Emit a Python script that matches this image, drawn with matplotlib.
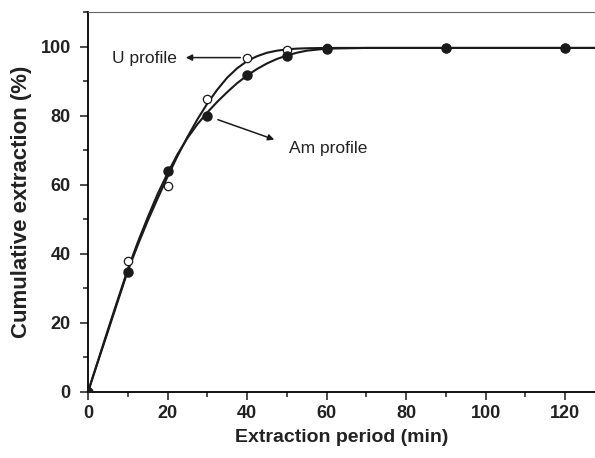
import matplotlib
matplotlib.use("Agg")
from matplotlib import pyplot as plt
from matplotlib.ticker import MultipleLocator

plt.rcParams["font.family"] = ["Liberation Sans", "DejaVu Sans"]

# measured points
t = [0, 10, 20, 30, 40, 50, 60, 90, 120]
u_data = [0, 37.9, 59.5, 84.7, 96.6, 99.0, 99.5, 99.5, 99.5]
am_data = [0, 34.8, 63.9, 79.9, 91.9, 97.3, 99.3, 99.5, 99.5]

# fitted curves
t_fit = [0, 2.5, 5, 7.5, 10, 12.5, 15, 17.5, 20, 22.5, 25, 27.5, 30, 32.5, 35,
         37.5, 40, 42.5, 45, 47.5, 50, 52.5, 55, 60, 70, 80, 100, 128]
u_fit = [0, 8.8, 17.5, 26.3, 35, 42.5, 49.5, 56, 62.3, 68.3, 73.8, 78.9, 83.5,
         87.5, 91, 93.7, 95.8, 97.2, 98.2, 98.8, 99.2, 99.4, 99.5, 99.6, 99.6, 99.6, 99.6, 99.6]
am_fit = [0, 9, 18, 26.8, 35.5, 43.3, 50.5, 57.3, 63.3, 68.8, 73.5, 77.5, 80.9,
          84, 86.8, 89.4, 91.6, 93.5, 95.1, 96.4, 97.4, 98.2, 98.8, 99.4, 99.6, 99.6, 99.6, 99.6]

fig = plt.figure(figsize=(5.95, 4.58), dpi=100)
ax = fig.add_axes([88 / 595, 66 / 458, 1 - 88 / 595, 380 / 458])

ax.plot(t_fit, u_fit, color="#1a1a1a", lw=1.5)
ax.plot(t_fit, am_fit, color="#1a1a1a", lw=1.5)
ax.plot(t, u_data, "o", mfc="white", mec="#1a1a1a", ms=6, mew=0.9, zorder=3)
ax.plot(t, am_data, "o", color="#1a1a1a", ms=6.5, zorder=3)

ax.annotate("", xy=(23.9, 96.8), xytext=(39, 96.8),
            arrowprops=dict(arrowstyle="-|>", color="#1a1a1a", lw=1.1, mutation_scale=9))
ax.text(14.3, 96.6, "U profile", ha="center", va="center", fontsize=12.5, color="#222222")
ax.annotate("", xy=(47.5, 72.8), xytext=(32, 79.1),
            arrowprops=dict(arrowstyle="-|>", color="#1a1a1a", lw=1.1, mutation_scale=9))
ax.text(50.5, 70.6, "Am profile", ha="left", va="center", fontsize=12.5, color="#222222")

ax.set_xlim(0, 127.5)
ax.set_ylim(0, 110)
ax.xaxis.set_major_locator(MultipleLocator(20))
ax.xaxis.set_minor_locator(MultipleLocator(10))
ax.yaxis.set_major_locator(MultipleLocator(20))
ax.yaxis.set_minor_locator(MultipleLocator(10))
ax.tick_params(which="both", direction="out", width=1.1, color="#1a1a1a")
ax.tick_params(which="major", length=6, labelsize=13)
ax.tick_params(axis="y", which="major", pad=6.5)
ax.tick_params(which="minor", length=3.5)
for lab in ax.get_xticklabels() + ax.get_yticklabels():
    lab.set_fontweight("bold")
    lab.set_color("#222222")

ax.spines["left"].set_linewidth(1.3)
ax.spines["bottom"].set_linewidth(1.3)
ax.spines["top"].set_linewidth(0.8)
ax.spines["top"].set_color("#666666")
ax.spines["right"].set_visible(False)

ax.set_xlabel("Extraction period (min)", fontsize=14, fontweight="bold", color="#222222", labelpad=5)
ax.set_ylabel("Cumulative extraction (%)", fontsize=16, fontweight="bold", color="#222222", labelpad=6)

fig.savefig("out.png", dpi=100)
